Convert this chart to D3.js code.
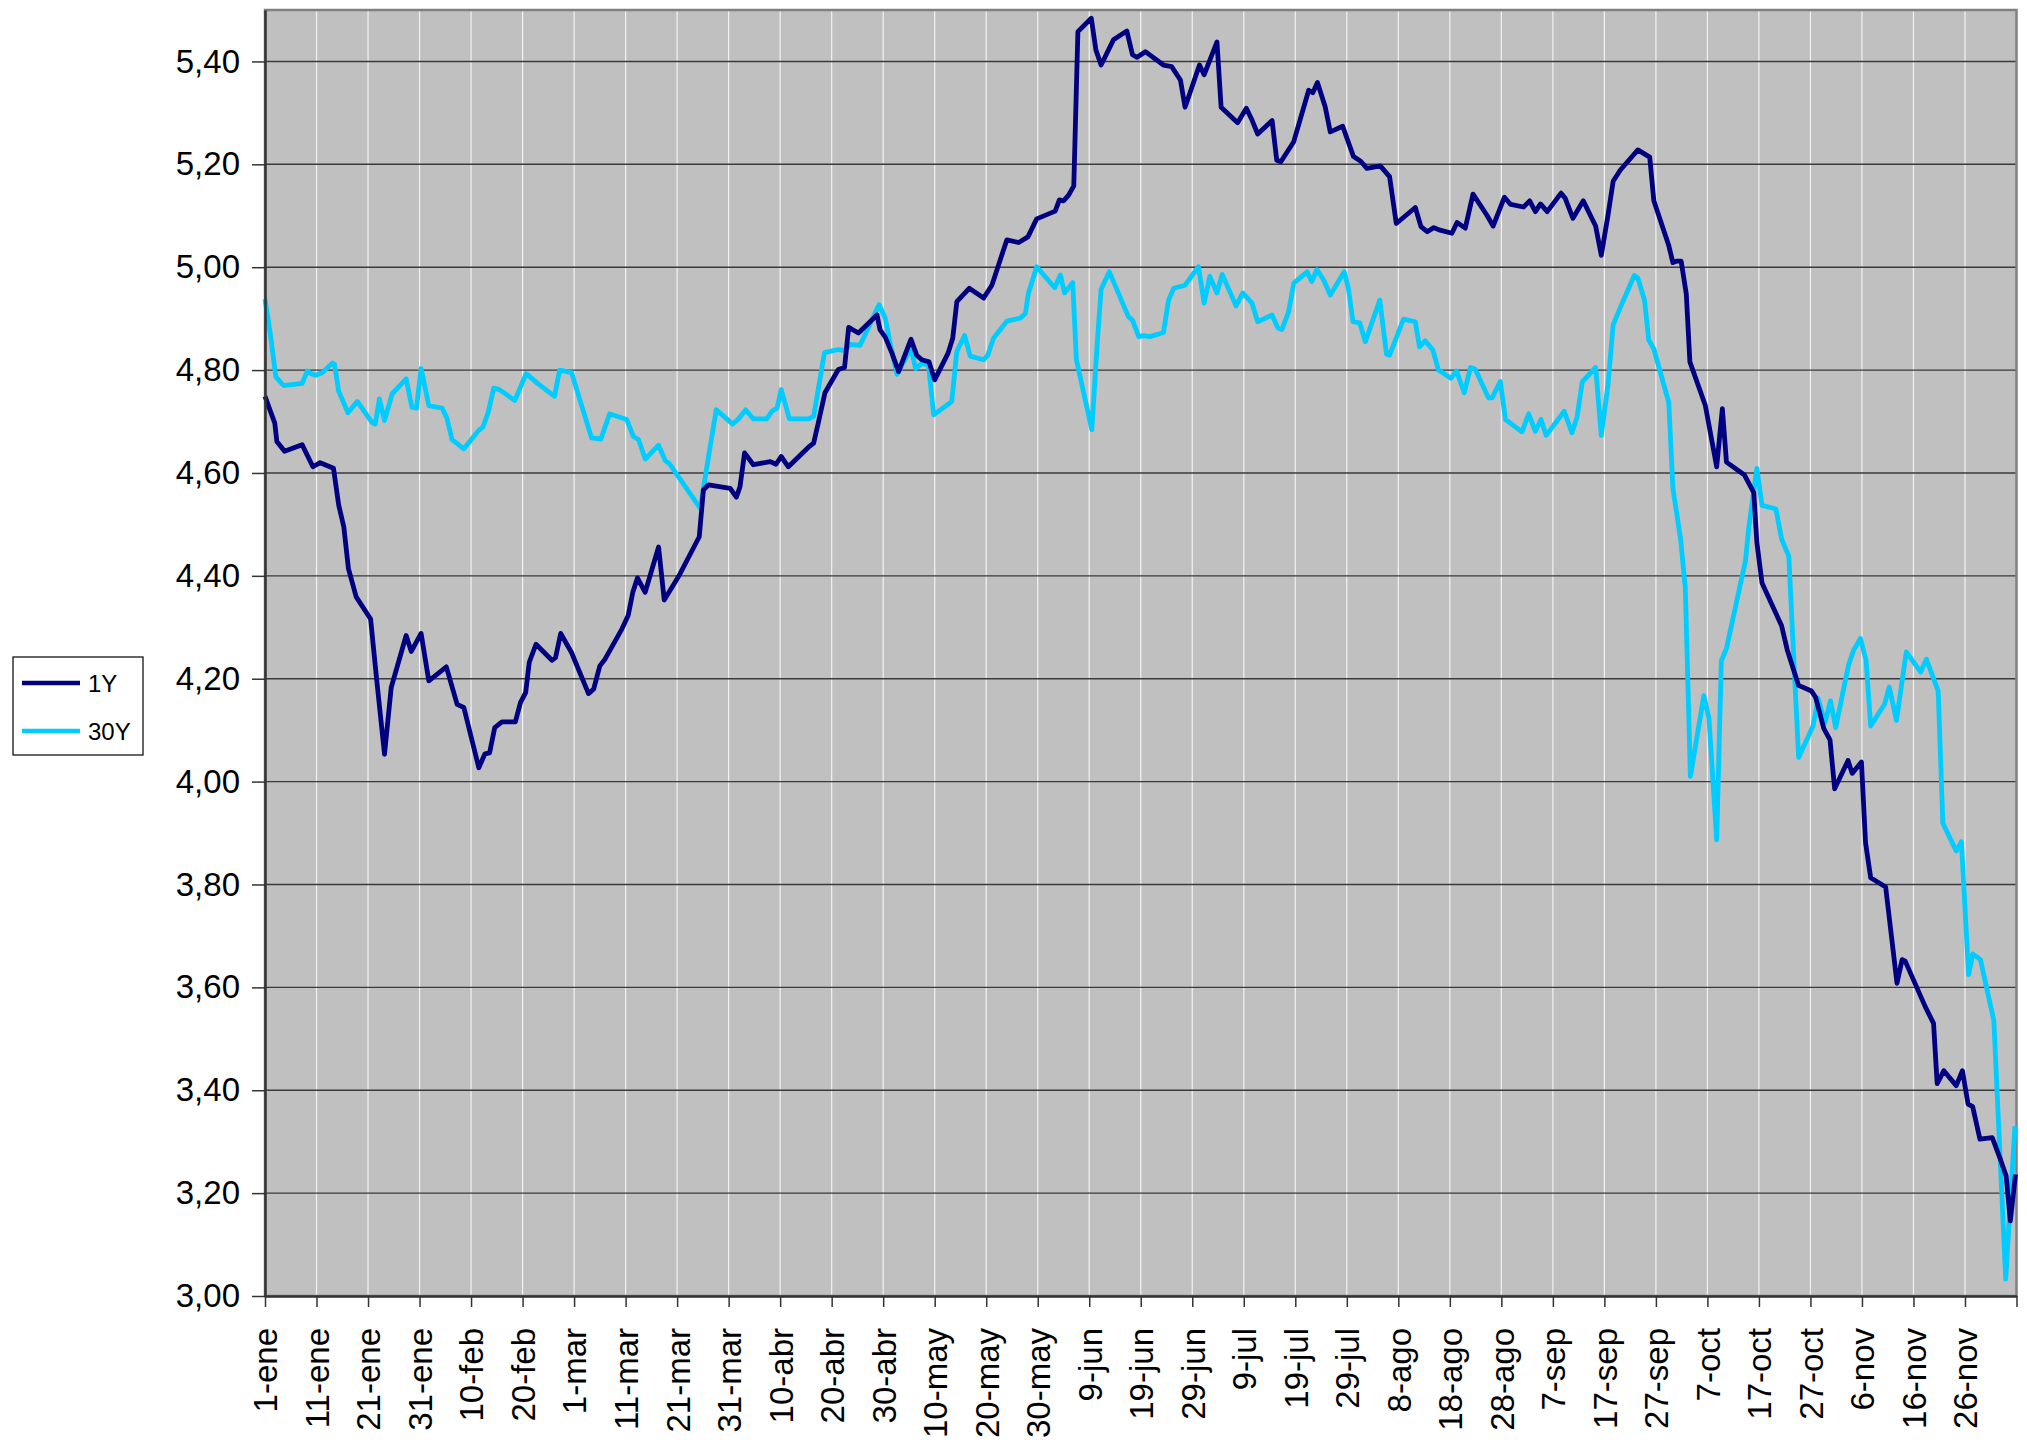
<!DOCTYPE html>
<html>
<head>
<meta charset="utf-8">
<script src="https://cdn.jsdelivr.net/npm/d3@7"></script>
<style>
  html, body { margin: 0; padding: 0; background: #ffffff; }
  svg text { font-family: "Liberation Sans", Arial, sans-serif; }
</style>
</head>
<body>
<svg id="chart" width="2027" height="1442"></svg>
<script>
// ---- Data (day offset from 1-ene, value) ----
const seriesNames = ["1Y", "30Y"];
const seriesColors = ["#000080", "#00CCFF"];

const days1Y = [0,1.9,2.3,3.8,7.2,9.3,10.7,13.3,14.3,15.3,16.2,17.7,20.5,21.7,23.2,24.5,27.4,28.4,30.3,31.8,35.2,37.3,38.6,41.5,42.7,43.6,44.6,46.0,48.6,49.6,50.6,51.3,52.6,55.7,56.4,57.4,59.5,62.8,63.8,65.0,66.0,69.3,70.5,71.4,72.3,73.8,76.4,77.5,80.3,84.3,85.1,86.1,90.3,91.5,92.2,93.1,94.8,98.1,99.2,100.2,101.6,105.5,106.5,107.4,108.7,111.3,112.5,113.3,115.2,118.8,119.4,120.4,121.7,123.0,125.4,126.5,127.5,128.9,130.0,132.6,133.5,134.3,136.7,139.5,141.1,144.0,146.3,148.1,149.8,153.4,154.2,155.0,156.0,157.0,157.8,160.4,161.3,162.3,164.7,167.3,168.4,169.3,170.9,174.4,176.0,177.7,178.6,181.4,182.3,184.8,185.6,188.8,190.5,191.6,192.7,195.5,196.4,197.2,199.7,202.6,203.4,204.3,205.8,206.8,209.2,211.3,212.7,213.9,216.5,218.3,219.6,223.3,224.4,225.6,226.9,228.1,230.4,231.4,233.0,234.5,237.2,238.4,240.6,241.8,244.3,245.5,246.6,247.6,248.9,251.6,252.4,253.9,255.9,258.3,259.4,260.7,261.7,263.1,266.5,268.8,269.6,272.5,273.3,274.1,274.9,275.9,276.6,279.6,281.8,282.9,283.7,287.2,289.0,289.6,290.6,294.4,295.5,297.7,300.2,301.0,302.6,303.8,304.7,307.3,308.1,309.9,310.7,311.7,314.6,316.8,317.8,318.4,322.3,323.9,324.6,325.9,328.3,329.5,330.6,331.5,332.9,335.3,336.9,338.0,338.8,339.8];
const values1Y = [4.749,4.697,4.661,4.642,4.655,4.612,4.620,4.609,4.538,4.495,4.414,4.359,4.316,4.196,4.053,4.183,4.284,4.253,4.288,4.196,4.223,4.150,4.144,4.027,4.054,4.056,4.105,4.116,4.116,4.154,4.173,4.232,4.267,4.236,4.241,4.288,4.251,4.171,4.180,4.225,4.238,4.297,4.323,4.368,4.396,4.368,4.456,4.353,4.399,4.476,4.567,4.577,4.570,4.553,4.573,4.639,4.616,4.622,4.617,4.632,4.612,4.650,4.658,4.697,4.756,4.801,4.805,4.883,4.872,4.907,4.878,4.864,4.833,4.797,4.860,4.829,4.820,4.816,4.781,4.833,4.862,4.933,4.959,4.940,4.965,5.053,5.048,5.059,5.094,5.109,5.131,5.129,5.140,5.158,5.458,5.484,5.422,5.393,5.442,5.459,5.413,5.408,5.419,5.393,5.390,5.364,5.311,5.393,5.374,5.438,5.311,5.281,5.309,5.286,5.259,5.285,5.208,5.205,5.244,5.344,5.339,5.359,5.312,5.263,5.274,5.215,5.206,5.192,5.197,5.176,5.085,5.116,5.079,5.069,5.077,5.072,5.066,5.087,5.076,5.142,5.101,5.080,5.136,5.122,5.117,5.129,5.108,5.123,5.108,5.144,5.134,5.095,5.129,5.080,5.023,5.101,5.167,5.189,5.228,5.214,5.129,5.042,5.009,5.012,5.012,4.948,4.816,4.731,4.612,4.725,4.621,4.596,4.562,4.465,4.386,4.303,4.256,4.187,4.176,4.164,4.103,4.081,3.986,4.041,4.016,4.038,3.881,3.813,3.795,3.608,3.654,3.651,3.562,3.530,3.413,3.438,3.409,3.438,3.373,3.368,3.305,3.308,3.265,3.233,3.146,3.236];

const days30Y = [0,1,2.1,3.6,7.2,8.2,9.0,9.8,11.1,13.1,13.5,14.3,16.1,17.9,20.8,21.4,22.2,23.2,24.7,27.4,28.5,29.4,30.3,31.8,34.4,35.3,36.3,38.6,41.5,42.3,43.3,44.4,45.5,48.5,50.7,52.8,56.2,57.2,59.5,63.4,65.2,66.9,70.2,71.5,72.5,73.8,76.4,77.7,78.5,84.5,86.0,87.6,90.8,91.9,93.3,94.8,97.4,98.4,99.4,100.2,101.8,105.5,106.5,108.6,111.3,112.6,113.6,115.5,119.2,120.4,121.5,122.7,125.4,126.3,127.5,128.8,129.8,133.3,134.3,135.8,136.9,139.5,140.3,141.4,144.0,146.6,147.6,148.2,149.8,153.3,154.4,155.2,156.8,157.5,160.5,161.5,162.3,163.9,167.6,168.4,169.6,170.5,171.8,174.4,175.4,176.4,178.6,181.2,182.3,183.4,184.8,185.8,188.5,189.8,191.6,192.7,195.5,196.6,197.4,198.7,199.7,202.3,203.2,204.2,205.5,206.8,209.5,210.3,211.2,212.5,213.6,216.4,217.7,218.3,221.0,223.3,224.1,225.2,226.7,227.8,230.2,231.3,232.8,234.0,234.9,237.5,238.2,239.8,240.8,244.0,245.3,246.6,247.7,248.7,252.2,253.7,254.7,255.7,258.3,259.4,260.7,261.7,263.1,265.8,266.5,267.8,268.6,269.6,272.5,273.3,274.8,275.7,276.7,279.3,280.3,281.8,282.7,283.7,287.4,288.0,289.6,290.6,293.3,294.4,295.8,297.7,300.5,301.5,302.8,303.9,304.9,307.4,308.4,309.7,310.8,311.7,314.4,315.3,316.7,318.6,321.4,322.5,324.8,325.7,328.3,329.3,330.7,331.5,333.0,335.6,337.9,339.7];
const values30Y = [4.938,4.873,4.787,4.770,4.774,4.798,4.793,4.790,4.795,4.814,4.811,4.759,4.717,4.739,4.698,4.695,4.744,4.702,4.754,4.783,4.728,4.726,4.803,4.731,4.726,4.707,4.665,4.647,4.683,4.689,4.717,4.765,4.762,4.741,4.793,4.775,4.749,4.800,4.795,4.668,4.666,4.715,4.704,4.671,4.665,4.627,4.654,4.624,4.618,4.531,4.626,4.723,4.695,4.705,4.723,4.705,4.705,4.720,4.726,4.762,4.705,4.705,4.710,4.834,4.840,4.838,4.850,4.848,4.927,4.901,4.845,4.792,4.842,4.803,4.813,4.810,4.713,4.739,4.836,4.867,4.827,4.820,4.829,4.862,4.895,4.901,4.910,4.950,5.001,4.960,4.985,4.950,4.970,4.820,4.684,4.845,4.957,4.991,4.904,4.897,4.865,4.867,4.865,4.873,4.936,4.959,4.965,5.001,4.930,4.982,4.950,4.986,4.925,4.950,4.930,4.894,4.907,4.882,4.879,4.913,4.969,4.991,4.972,4.995,4.975,4.946,4.991,4.959,4.894,4.892,4.855,4.936,4.831,4.829,4.899,4.894,4.845,4.857,4.839,4.800,4.784,4.798,4.756,4.805,4.802,4.746,4.746,4.778,4.704,4.680,4.715,4.681,4.704,4.673,4.720,4.678,4.709,4.777,4.805,4.673,4.772,4.888,4.922,4.984,4.979,4.935,4.859,4.841,4.737,4.570,4.471,4.377,4.010,4.167,4.123,3.887,4.235,4.259,4.430,4.492,4.609,4.537,4.530,4.472,4.438,4.047,4.108,4.162,4.114,4.157,4.105,4.227,4.256,4.278,4.235,4.108,4.151,4.184,4.119,4.252,4.213,4.238,4.176,3.919,3.865,3.883,3.625,3.665,3.654,3.535,3.033,3.330];

const xTickLabels = ["1-ene","11-ene","21-ene","31-ene","10-feb","20-feb","1-mar","11-mar","21-mar","31-mar","10-abr","20-abr","30-abr","10-may","20-may","30-may","9-jun","19-jun","29-jun","9-jul","19-jul","29-jul","8-ago","18-ago","28-ago","7-sep","17-sep","27-sep","7-oct","17-oct","27-oct","6-nov","16-nov","26-nov"];
const yTicks = [3.0,3.2,3.4,3.6,3.8,4.0,4.2,4.4,4.6,4.8,5.0,5.2,5.4];

// ---- Layout ----
const svg = d3.select("#chart");
const plot = {left: 265, right: 2016.5, top: 10, bottom: 1296};
const x = d3.scaleLinear().domain([0, 340]).range([plot.left, plot.right]);
const y = d3.scaleLinear().domain([3.0, 5.5]).range([plot.bottom, plot.top]);
const xTickDays = d3.range(0, 341, 10);

// plot background
svg.append("rect")
  .attr("x", plot.left).attr("y", plot.top)
  .attr("width", plot.right - plot.left).attr("height", plot.bottom - plot.top)
  .attr("fill", "#C0C0C0");

// vertical white gridlines
svg.append("g").selectAll("line").data(xTickDays.slice(1, -1)).join("line")
  .attr("x1", d => x(d)).attr("x2", d => x(d))
  .attr("y1", plot.top).attr("y2", plot.bottom)
  .attr("stroke", "#F2F2F2").attr("stroke-width", 1.2);

// horizontal gridlines
svg.append("g").selectAll("line").data(yTicks.slice(1)).join("line")
  .attr("x1", plot.left).attr("x2", plot.right)
  .attr("y1", d => y(d)).attr("y2", d => y(d))
  .attr("stroke", "#3a3a3a").attr("stroke-width", 1.4);

// plot border (top/right gray)
svg.append("rect")
  .attr("x", plot.left).attr("y", plot.top)
  .attr("width", plot.right - plot.left).attr("height", plot.bottom - plot.top)
  .attr("fill", "none").attr("stroke", "#808080").attr("stroke-width", 2.5);

// lines
const lineGen = d3.line().x(d => x(d[0])).y(d => y(d[1]));
const data1Y = days1Y.map((d, i) => [d, values1Y[i]]);
const data30Y = days30Y.map((d, i) => [d, values30Y[i]]);

svg.append("path").datum(data30Y)
  .attr("d", lineGen).attr("fill", "none")
  .attr("stroke", seriesColors[1]).attr("stroke-width", 4.8)
  .attr("stroke-linejoin", "round");
svg.append("path").datum(data1Y)
  .attr("d", lineGen).attr("fill", "none")
  .attr("stroke", seriesColors[0]).attr("stroke-width", 4.8)
  .attr("stroke-linejoin", "round");

// y axis
const yAxis = d3.axisLeft(y).tickValues(yTicks)
  .tickFormat(d => d3.format(".2f")(d).replace(".", ","))
  .tickSize(13).tickSizeOuter(0).tickPadding(12);
const gy = svg.append("g").attr("transform", `translate(${plot.left},0)`).call(yAxis);
gy.select(".domain").attr("stroke", "#333").attr("stroke-width", 2.5);
gy.selectAll(".tick line").attr("stroke", "#333").attr("stroke-width", 1.5);
gy.selectAll(".tick text").attr("font-size", 33).attr("fill", "#000")
  .attr("font-family", "Liberation Sans, Arial, sans-serif");

// x axis
const xAxis = d3.axisBottom(x).tickValues(xTickDays)
  .tickFormat((d, i) => xTickLabels[i] || "")
  .tickSize(11).tickSizeOuter(0);
const gx = svg.append("g").attr("transform", `translate(0,${plot.bottom})`).call(xAxis);
gx.select(".domain").attr("stroke", "#333").attr("stroke-width", 2.5);
gx.selectAll(".tick line").attr("stroke", "#333").attr("stroke-width", 1.5);
gx.selectAll(".tick text")
  .attr("font-size", 33).attr("fill", "#000")
  .attr("font-family", "Liberation Sans, Arial, sans-serif")
  .attr("transform", "rotate(-90)")
  .attr("text-anchor", "end")
  .attr("x", -32).attr("y", 0).attr("dy", "0.36em");

// legend
const legend = svg.append("g");
legend.append("rect").attr("x", 13).attr("y", 657).attr("width", 130).attr("height", 98)
  .attr("fill", "#fff").attr("stroke", "#000").attr("stroke-width", 1.2);
seriesNames.forEach((name, i) => {
  const cy = 683 + i * 48;
  legend.append("line").attr("x1", 22).attr("x2", 80).attr("y1", cy).attr("y2", cy)
    .attr("stroke", seriesColors[i]).attr("stroke-width", 4.5);
  legend.append("text").attr("x", 88).attr("y", cy + 8.5)
    .attr("font-size", 24).attr("fill", "#000").text(name);
});
</script>
</body>
</html>
